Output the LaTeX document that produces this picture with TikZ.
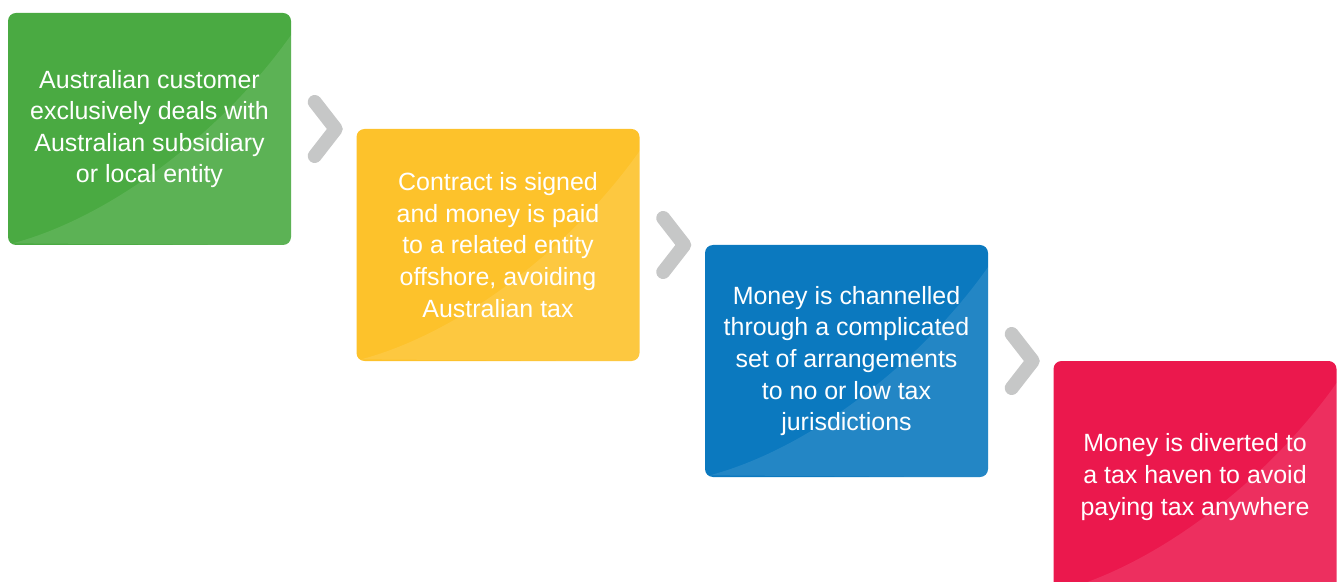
\documentclass[tikz,border=0pt]{standalone}
\usepackage{fontspec}
\setmainfont{Liberation Sans}
\usepackage{xcolor}
\usepackage{tikz}
\usetikzlibrary{calc}
\definecolor{stepgreen}{HTML}{4AAA42}
\definecolor{stepyellow}{HTML}{FDC22B}
\definecolor{stepblue}{HTML}{0B79BF}
\definecolor{stepred}{HTML}{EB184D}
\definecolor{chevgray}{HTML}{C6C7C7}
\tikzstyle{stepbox} = [rectangle, rounded corners=0.16cm, minimum width=5.66cm, minimum height=4.64cm, inner sep=0pt, align=center, text=white, font=\fontsize{14.2}{18}\selectfont]
\tikzstyle{chevron} = [draw=chevgray, line width=0.28cm, line cap=round, line join=round]
\tikzstyle{sheen} = [fill=white, fill opacity=0.1]

\begin{document}
\begin{tikzpicture}[node distance=6.97cm]
        \useasboundingbox (0,0) rectangle (26.76,-11.64);
        \node (customer) [stepbox, fill=stepgreen] at (2.99,-2.58) {Australian customer\\exclusively deals with\\Australian subsidiary\\or local entity};
        \node (contract) [stepbox, fill=stepyellow, right of=customer, yshift=-2.32cm] {Contract is signed\\and money is paid\\to a related entity\\offshore, avoiding\\Australian tax};
        \node (channel) [stepbox, fill=stepblue, right of=contract, yshift=-2.32cm] {Money is channelled\\through a complicated\\set of arrangements\\to no or low tax\\jurisdictions};
        \node (haven) [stepbox, fill=stepred, right of=channel, yshift=-2.32cm] {Money is diverted to\\a tax haven to avoid\\paying tax anywhere};

        % lighter sweep on the lower right of each box
        \foreach \n in {customer, contract, channel, haven} {
            \begin{scope}
                \clip [rounded corners=0.16cm] (\n.south west) rectangle (\n.north east);
                \fill [sheen] ($(\n.south west)+(0.1,0.04)$) .. controls ($(\n.south west)+(2.2,0.6)$) and ($(\n.south west)+(4.4,2.4)$) .. ($(\n.north east)+(0,-0.44)$) -- (\n.south east) -- cycle;
            \end{scope}
        }

        % chevrons between the steps
        \draw [chevron] ($(customer.east)!0.5!(customer.east -| contract.west)$) ++(-0.18,0.54) -- ++(0.42,-0.54) -- ++(-0.42,-0.54);
        \draw [chevron] ($(contract.east)!0.5!(contract.east -| channel.west)$) ++(-0.18,0.54) -- ++(0.42,-0.54) -- ++(-0.42,-0.54);
        \draw [chevron] ($(channel.east)!0.5!(channel.east -| haven.west)$) ++(-0.18,0.54) -- ++(0.42,-0.54) -- ++(-0.42,-0.54);
    \end{tikzpicture}
\end{document}
